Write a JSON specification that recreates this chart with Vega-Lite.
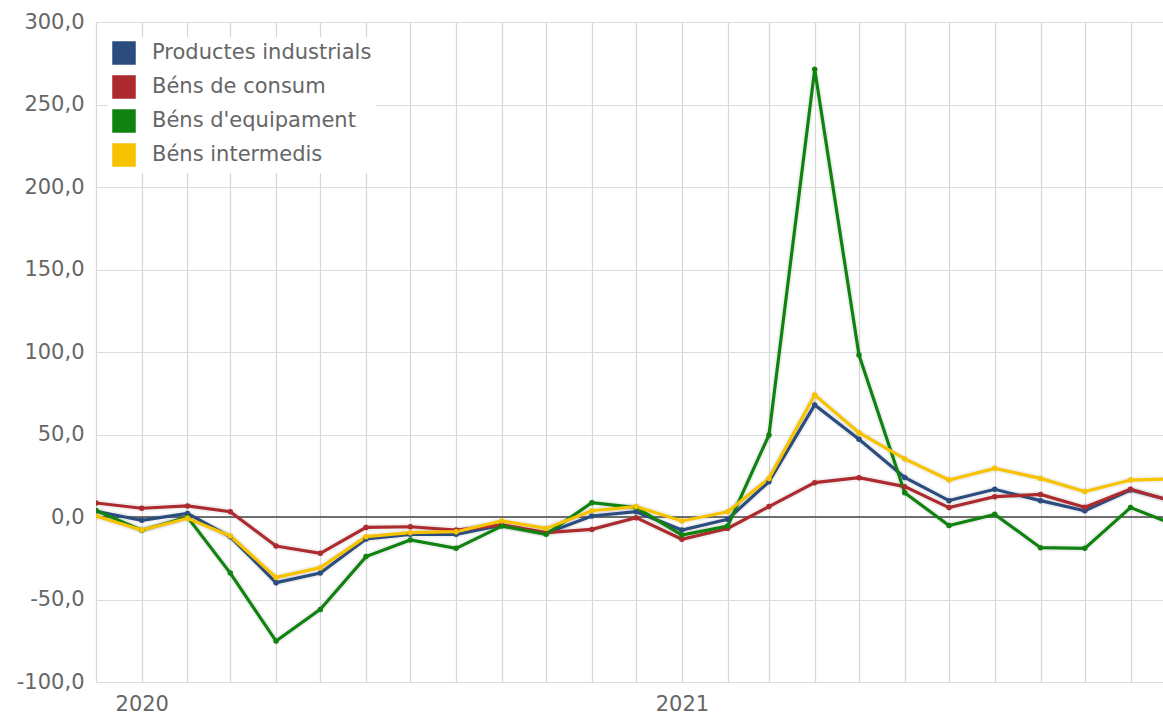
{
  "$schema": "https://vega.github.io/schema/vega-lite/v6.json",
  "width": 1067,
  "height": 660,
  "autosize": {"type": "none"},
  "padding": {"left": 96, "top": 22, "right": 0, "bottom": 34},
  "background": "white",
  "config": {"view": {"stroke": null}, "font": "DejaVu Sans"},
  "data": {
    "values": [
      {"mes": "2019-12-01", "serie": "Productes industrials", "valor": 3.5},
      {"mes": "2020-01-01", "serie": "Productes industrials", "valor": -2},
      {"mes": "2020-02-01", "serie": "Productes industrials", "valor": 2.2},
      {"mes": "2020-03-01", "serie": "Productes industrials", "valor": -12},
      {"mes": "2020-04-01", "serie": "Productes industrials", "valor": -39.8},
      {"mes": "2020-05-01", "serie": "Productes industrials", "valor": -34},
      {"mes": "2020-06-01", "serie": "Productes industrials", "valor": -13.3},
      {"mes": "2020-07-01", "serie": "Productes industrials", "valor": -10.5},
      {"mes": "2020-08-01", "serie": "Productes industrials", "valor": -10.5},
      {"mes": "2020-09-01", "serie": "Productes industrials", "valor": -5},
      {"mes": "2020-10-01", "serie": "Productes industrials", "valor": -9.9},
      {"mes": "2020-11-01", "serie": "Productes industrials", "valor": 0.6},
      {"mes": "2020-12-01", "serie": "Productes industrials", "valor": 3.2},
      {"mes": "2021-01-01", "serie": "Productes industrials", "valor": -7.9},
      {"mes": "2021-02-01", "serie": "Productes industrials", "valor": -1.4},
      {"mes": "2021-03-01", "serie": "Productes industrials", "valor": 21.4},
      {"mes": "2021-04-01", "serie": "Productes industrials", "valor": 67.9},
      {"mes": "2021-05-01", "serie": "Productes industrials", "valor": 47.1},
      {"mes": "2021-06-01", "serie": "Productes industrials", "valor": 24},
      {"mes": "2021-07-01", "serie": "Productes industrials", "valor": 9.9},
      {"mes": "2021-08-01", "serie": "Productes industrials", "valor": 16.8},
      {"mes": "2021-09-01", "serie": "Productes industrials", "valor": 9.9},
      {"mes": "2021-10-01", "serie": "Productes industrials", "valor": 3.8},
      {"mes": "2021-11-01", "serie": "Productes industrials", "valor": 16.4},
      {"mes": "2021-12-01", "serie": "Productes industrials", "valor": 9.5},
      {"mes": "2019-12-01", "serie": "Béns de consum", "valor": 8.5},
      {"mes": "2020-01-01", "serie": "Béns de consum", "valor": 5.3},
      {"mes": "2020-02-01", "serie": "Béns de consum", "valor": 6.7},
      {"mes": "2020-03-01", "serie": "Béns de consum", "valor": 3.2},
      {"mes": "2020-04-01", "serie": "Béns de consum", "valor": -17.6},
      {"mes": "2020-05-01", "serie": "Béns de consum", "valor": -22},
      {"mes": "2020-06-01", "serie": "Béns de consum", "valor": -6.3},
      {"mes": "2020-07-01", "serie": "Béns de consum", "valor": -5.9},
      {"mes": "2020-08-01", "serie": "Béns de consum", "valor": -7.9},
      {"mes": "2020-09-01", "serie": "Béns de consum", "valor": -4.8},
      {"mes": "2020-10-01", "serie": "Béns de consum", "valor": -9.5},
      {"mes": "2020-11-01", "serie": "Béns de consum", "valor": -7.5},
      {"mes": "2020-12-01", "serie": "Béns de consum", "valor": -0.4},
      {"mes": "2021-01-01", "serie": "Béns de consum", "valor": -13.5},
      {"mes": "2021-02-01", "serie": "Béns de consum", "valor": -6.9},
      {"mes": "2021-03-01", "serie": "Béns de consum", "valor": 6.3},
      {"mes": "2021-04-01", "serie": "Béns de consum", "valor": 20.8},
      {"mes": "2021-05-01", "serie": "Béns de consum", "valor": 23.8},
      {"mes": "2021-06-01", "serie": "Béns de consum", "valor": 18.4},
      {"mes": "2021-07-01", "serie": "Béns de consum", "valor": 5.7},
      {"mes": "2021-08-01", "serie": "Béns de consum", "valor": 12.3},
      {"mes": "2021-09-01", "serie": "Béns de consum", "valor": 13.7},
      {"mes": "2021-10-01", "serie": "Béns de consum", "valor": 5.9},
      {"mes": "2021-11-01", "serie": "Béns de consum", "valor": 16.8},
      {"mes": "2021-12-01", "serie": "Béns de consum", "valor": 9.1},
      {"mes": "2019-12-01", "serie": "Béns d'equipament", "valor": 4},
      {"mes": "2020-01-01", "serie": "Béns d'equipament", "valor": -8},
      {"mes": "2020-02-01", "serie": "Béns d'equipament", "valor": 0},
      {"mes": "2020-03-01", "serie": "Béns d'equipament", "valor": -34},
      {"mes": "2020-04-01", "serie": "Béns d'equipament", "valor": -75.2},
      {"mes": "2020-05-01", "serie": "Béns d'equipament", "valor": -56},
      {"mes": "2020-06-01", "serie": "Béns d'equipament", "valor": -24},
      {"mes": "2020-07-01", "serie": "Béns d'equipament", "valor": -13.9},
      {"mes": "2020-08-01", "serie": "Béns d'equipament", "valor": -19},
      {"mes": "2020-09-01", "serie": "Béns d'equipament", "valor": -5.5},
      {"mes": "2020-10-01", "serie": "Béns d'equipament", "valor": -10.5},
      {"mes": "2020-11-01", "serie": "Béns d'equipament", "valor": 8.7},
      {"mes": "2020-12-01", "serie": "Béns d'equipament", "valor": 5.7},
      {"mes": "2021-01-01", "serie": "Béns d'equipament", "valor": -10.9},
      {"mes": "2021-02-01", "serie": "Béns d'equipament", "valor": -5.5},
      {"mes": "2021-03-01", "serie": "Béns d'equipament", "valor": 49.7},
      {"mes": "2021-04-01", "serie": "Béns d'equipament", "valor": 271.3},
      {"mes": "2021-05-01", "serie": "Béns d'equipament", "valor": 98.2},
      {"mes": "2021-06-01", "serie": "Béns d'equipament", "valor": 14.7},
      {"mes": "2021-07-01", "serie": "Béns d'equipament", "valor": -5.2},
      {"mes": "2021-08-01", "serie": "Béns d'equipament", "valor": 1.6},
      {"mes": "2021-09-01", "serie": "Béns d'equipament", "valor": -18.6},
      {"mes": "2021-10-01", "serie": "Béns d'equipament", "valor": -19},
      {"mes": "2021-11-01", "serie": "Béns d'equipament", "valor": 5.7},
      {"mes": "2021-12-01", "serie": "Béns d'equipament", "valor": -4.8},
      {"mes": "2019-12-01", "serie": "Béns intermedis", "valor": 0.6},
      {"mes": "2020-01-01", "serie": "Béns intermedis", "valor": -7.9},
      {"mes": "2020-02-01", "serie": "Béns intermedis", "valor": -0.8},
      {"mes": "2020-03-01", "serie": "Béns intermedis", "valor": -11.5},
      {"mes": "2020-04-01", "serie": "Béns intermedis", "valor": -36.6},
      {"mes": "2020-05-01", "serie": "Béns intermedis", "valor": -30.7},
      {"mes": "2020-06-01", "serie": "Béns intermedis", "valor": -11.9},
      {"mes": "2020-07-01", "serie": "Béns intermedis", "valor": -9.5},
      {"mes": "2020-08-01", "serie": "Béns intermedis", "valor": -8.9},
      {"mes": "2020-09-01", "serie": "Béns intermedis", "valor": -2.4},
      {"mes": "2020-10-01", "serie": "Béns intermedis", "valor": -6.9},
      {"mes": "2020-11-01", "serie": "Béns intermedis", "valor": 3.8},
      {"mes": "2020-12-01", "serie": "Béns intermedis", "valor": 6.3},
      {"mes": "2021-01-01", "serie": "Béns intermedis", "valor": -2.4},
      {"mes": "2021-02-01", "serie": "Béns intermedis", "valor": 3.2},
      {"mes": "2021-03-01", "serie": "Béns intermedis", "valor": 23.4},
      {"mes": "2021-04-01", "serie": "Béns intermedis", "valor": 73.9},
      {"mes": "2021-05-01", "serie": "Béns intermedis", "valor": 51.1},
      {"mes": "2021-06-01", "serie": "Béns intermedis", "valor": 35.2},
      {"mes": "2021-07-01", "serie": "Béns intermedis", "valor": 22.4},
      {"mes": "2021-08-01", "serie": "Béns intermedis", "valor": 29.5},
      {"mes": "2021-09-01", "serie": "Béns intermedis", "valor": 23.4},
      {"mes": "2021-10-01", "serie": "Béns intermedis", "valor": 15.4},
      {"mes": "2021-11-01", "serie": "Béns intermedis", "valor": 22.4},
      {"mes": "2021-12-01", "serie": "Béns intermedis", "valor": 23.2}
    ]
  },
  "encoding": {
    "x": {
      "field": "mes",
      "type": "temporal",
      "title": null,
      "scale": {
        "type": "utc",
        "domain": [
          {"year": 2019, "month": 12, "date": 1, "utc": true},
          {"year": 2021, "month": 11, "date": 23, "utc": true}
        ]
      },
      "axis": {
        "tickCount": {"interval": "month", "step": 1},
        "labelExpr": "utcFormat(datum.value, '%m') == '01' ? utcFormat(datum.value, '%Y') : ''",
        "grid": true,
        "gridColor": "#d6d6d6",
        "gridWidth": 1.2,
        "domain": false,
        "ticks": false,
        "tickSize": 0,
        "labelFontSize": 21,
        "labelColor": "#666666",
        "labelPadding": 11,
        "labelOverlap": false,
        "labelFlush": false
      }
    },
    "y": {
      "field": "valor",
      "type": "quantitative",
      "title": null,
      "scale": {"domain": [-100, 300], "nice": false, "zero": false},
      "axis": {
        "values": [-100, -50, 0, 50, 100, 150, 200, 250, 300],
        "labelExpr": "replace(replace(format(datum.value, '.1f'), '.', ','), '\u2212', '-')",
        "grid": true,
        "gridColor": "#dddddd",
        "gridWidth": 1.2,
        "domain": false,
        "ticks": false,
        "tickSize": 0,
        "labelFontSize": 21,
        "labelColor": "#666666",
        "labelPadding": 12
      }
    }
  },
  "layer": [
    {
      "mark": {"type": "line", "clip": true, "strokeWidth": 7, "color": "#000000", "opacity": 0.06},
      "encoding": {
        "detail": {"field": "serie"}
      }
    },
    {
      "data": {"values": [{"zero": 0}]},
      "mark": {"type": "rule", "color": "#444444", "strokeWidth": 1.3},
      "encoding": {
        "x": null,
        "y": {"field": "zero", "type": "quantitative"}
      }
    },
    {
      "mark": {"type": "line", "clip": true, "strokeWidth": 3.2},
      "encoding": {
        "color": {
          "field": "serie",
          "type": "nominal",
          "scale": {
            "domain": ["Productes industrials", "Béns de consum", "Béns d'equipament", "Béns intermedis"],
            "range": ["#2b4c7e", "#ad2a2e", "#0f820f", "#f7c200"]
          },
          "legend": {
            "orient": "none",
            "legendX": 12,
            "legendY": 15,
            "title": null,
            "symbolType": "square",
            "symbolSize": 484,
            "symbolOpacity": 1,
            "symbolStrokeColor": "#c8c8c8",
            "symbolStrokeWidth": 1.5,
            "labelFontSize": 21,
            "labelColor": "#666666",
            "labelFont": "DejaVu Sans",
            "rowPadding": 6,
            "labelOffset": 16,
            "fillColor": "white",
            "padding": 4,
            "labelLimit": 400,
            "encode": {
              "symbols": {
                "update": {
                  "fill": {"scale": "color", "field": "value"},
                  "fillOpacity": {"value": 1}
                }
              }
            }
          }
        }
      }
    },
    {
      "mark": {"type": "point", "clip": true, "filled": true, "size": 30, "opacity": 1},
      "encoding": {
        "color": {"field": "serie", "type": "nominal"}
      }
    }
  ]
}
